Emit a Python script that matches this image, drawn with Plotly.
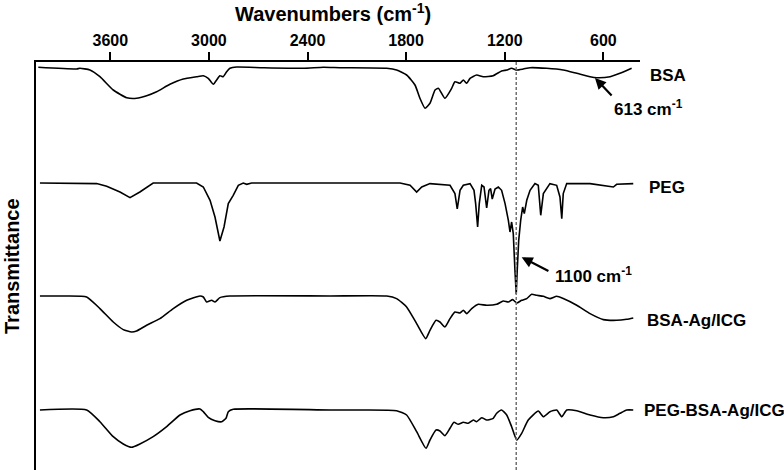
import plotly.graph_objects as go

# ---------------- data (wavenumber in cm-1, relative transmittance in a.u.; 0 = baseline) ----------------
bsa_wn = [4038, 3805, 3785, 3724, 3663, 3582, 3500, 3440, 3379, 3318, 3237, 3156, 3074, 3034, 3004, 2973,
          2953, 2933, 2913, 2892, 2872, 2831, 2669, 2426, 2304, 2202, 1918, 1858, 1797, 1746, 1716, 1685,
          1655, 1624, 1604, 1564, 1523, 1503, 1472, 1452, 1431, 1411, 1371, 1331, 1270, 1219, 1188, 1158,
          1127, 1087, 1046, 945, 844, 762, 681, 640, 559, 499, 428]
bsa_t = [0.7, -1, -0.3, -2, -8.7, -22, -29.7, -30.3, -27.7, -23.7, -16.3, -11, -8.7, -7.7, -10.3, -16.3,
         -12, -7.7, -8.7, -3.7, -0.3, 1, 0.3, -0.3, 0.7, 0.3, -0.3, -2, -7, -17, -30.3, -40.3,
         -35.3, -22, -20.3, -30.3, -20.3, -13.7, -15.3, -12, -15.3, -10.3, -7, -8.7, -7.7, -3, -2, -0.3,
         -2, -1, 0.3, -0.3, -2, -5.3, -8.7, -9.7, -8.7, -5.3, -0.3]

peg_wn = [4028, 3906, 3785, 3683, 3622, 3541, 3480, 3420, 3339, 3075, 3034, 2993, 2963, 2933, 2908, 2882,
          2852, 2821, 2791, 2770, 2740, 2263, 1837, 1776, 1736, 1705, 1655, 1533, 1503, 1489, 1472, 1452,
          1411, 1387, 1377, 1365, 1355, 1340, 1326, 1310, 1296, 1286, 1276, 1259, 1239, 1219, 1198, 1178,
          1168, 1158, 1148, 1138, 1130, 1124, 1115, 1103, 1091, 1081, 1066, 1046, 1016, 996, 981, 965,
          925, 884, 864, 853, 844, 823, 681, 539, 519, 418]
peg_t = [0, 0, -0.6, -0.6, -3.3, -9, -14.6, -9, 0, 0, -4, -17.3, -34, -58, -44, -20.6,
         -12.3, -2.3, 0, -1.3, 0, 0, 0, -2.3, -9, -4, -0.6, -2.3, -10.6, -26, -7.3, -2.3,
         -0.6, -7.3, -20.6, -44, -20.6, -2.3, -4, -25, -7.3, -5.6, -16, -6, -4, -7.3, -20.6, -37.3,
         -49, -39, -50.6, -87.3, -111, -87.3, -57.3, -37.3, -24, -30.6, -17.3, -7.3, -0.6, -2.3, -32.3, -10.6,
         -0.6, -2.3, -14, -35.6, -10.6, -0.6, -0.6, -4, -1.3, -0.6]

bsaag_wn = [4028, 3866, 3744, 3663, 3582, 3521, 3470, 3440, 3379, 3298, 3217, 3135, 3054, 3034, 3014, 2983,
            2963, 2933, 2872, 2263, 1918, 1858, 1797, 1736, 1681, 1655, 1618, 1594, 1564, 1533, 1503, 1472,
            1452, 1431, 1401, 1361, 1310, 1249, 1209, 1178, 1152, 1127, 1097, 1066, 1036, 1006, 965, 925,
            884, 844, 762, 681, 600, 519, 458, 418]
bsaag_t = [0, 0, -1, -12.6, -26, -33.6, -36, -35, -29.3, -22.6, -12.6, -4.3, 0, -1, -6, -4.3,
           -6, -1.6, 0, 0, 0, -2.6, -11, -27.6, -42.6, -34.3, -24.3, -26, -31, -22.6, -16, -17,
           -14.3, -17.6, -12.6, -8.3, -9.3, -8.3, -5, -6, -3.6, -7, -4.3, -2.6, 1.7, 0.7, -0.3, -2.6,
           -0.3, -2.6, -9.3, -17.6, -23.6, -24.3, -23.3, -22]

pegbsa_wn = [4028, 3744, 3663, 3582, 3521, 3470, 3420, 3339, 3257, 3176, 3115, 3054, 3034, 3004, 2963, 2922,
             2896, 2882, 2852, 2263, 2061, 1858, 1797, 1736, 1679, 1655, 1618, 1594, 1564, 1533, 1509, 1483,
             1452, 1422, 1391, 1371, 1340, 1310, 1270, 1249, 1219, 1188, 1158, 1127, 1097, 1057, 996, 965,
             925, 884, 853, 823, 762, 681, 600, 539, 499, 458, 418]
pegbsa_t = [0, 0, -11.7, -26.7, -34, -37.3, -34, -26.7, -16.7, -5, -0.7, 1, -1.7, -7.3, -10.7, -11.7,
            -8.3, -1.7, 0.7, 0, 0, -0.7, -5, -21.7, -38.3, -30, -20, -21, -25.7, -18.3, -12.3, -14.3,
            -12.3, -13.3, -10, -11.7, -7.7, -10, -8.3, -3.3, 0, -5, -16.7, -30, -23.3, -10, -1, -6.7,
            -1.7, 0, -6.7, 0, -0.7, -5, -7.7, -6.7, -3.3, 0, 0]

names = ["BSA", "PEG", "BSA-Ag/ICG", "PEG-BSA-Ag/ICG"]
offsets = [402, 287, 174, 60]          # vertical stacking offsets (a.u.)
tick_vals = [3600, 3000, 2400, 1800, 1200, 600]
marker_wn = 1130                       # PEG C-O-C band (dashed guide)

series = [(bsa_wn, bsa_t), (peg_wn, peg_t), (bsaag_wn, bsaag_t), (pegbsa_wn, pegbsa_t)]

FONT = "Liberation Sans, Arial, sans-serif"

fig = go.Figure()
for (wn, t), off, name in zip(series, offsets, names):
    fig.add_trace(go.Scatter(
        x=wn, y=[v + off for v in t], mode="lines", name=name,
        line=dict(color="black", width=1.6,
                  shape="linear" if name == "PEG" else "spline",
                  smoothing=0.5 if name != "PEG" else None),
        showlegend=False, hoverinfo="skip"))

# dashed guide line
fig.add_shape(type="line", xref="x", yref="paper", x0=marker_wn, x1=marker_wn, y0=0, y1=1,
              line=dict(color="#707070", width=1.5, dash="3px,2px"))

ann = []
label_x = [1.0132, 1.0116, 1.0083, 1.0033]
label_y = [395, 283, 150, 60]
for n, lx, ly in zip(names, label_x, label_y):
    ann.append(dict(text="<b>%s</b>" % n, xref="paper", yref="y", x=lx, y=ly,
                    xanchor="left", yanchor="middle", showarrow=False,
                    font=dict(family=FONT, size=17, color="black")))

# arrows
ann.append(dict(text="", xref="x", yref="y", x=651, y=392, axref="x", ayref="y", ax=541, ay=373,
                showarrow=True, arrowhead=2, arrowsize=1, arrowwidth=2.2, arrowcolor="black"))
ann.append(dict(text="<b>613 cm<sup>-1</sup></b>", xref="x", yref="y", x=547, y=362,
                xanchor="left", yanchor="middle", showarrow=False,
                font=dict(family=FONT, size=17, color="black")))
ann.append(dict(text="", xref="x", yref="y", x=1097, y=212.7, axref="x", ayref="y", ax=925, ay=198.3,
                showarrow=True, arrowhead=2, arrowsize=1, arrowwidth=2.2, arrowcolor="black"))
ann.append(dict(text="<b>1100 cm<sup>-1</sup></b>", xref="x", yref="y", x=906, y=195,
                xanchor="left", yanchor="middle", showarrow=False,
                font=dict(family=FONT, size=17, color="black")))

# axis titles
ann.append(dict(text="<b>Wavenumbers (cm<sup>-1</sup>)</b>", xref="paper", yref="paper",
                x=0.4917, y=1 + (62 - 12) / 408, xanchor="center", yanchor="middle", showarrow=False,
                font=dict(family=FONT, size=20, color="black")))
ann.append(dict(text="<b>Transmittance</b>", xref="paper", yref="paper", textangle=-90,
                x=-(36 - 12) / 604, y=0.5, xanchor="center", yanchor="middle", showarrow=False,
                font=dict(family=FONT, size=20, color="black")))

fig.update_layout(
    width=784, height=470,
    margin=dict(l=36, r=144, t=62, b=0, pad=0),
    plot_bgcolor="white", paper_bgcolor="white",
    annotations=ann,
    xaxis=dict(range=[4052, 377], side="top", tickvals=tick_vals,
               ticktext=["<b>%d</b>" % v for v in tick_vals],
               ticks="outside", ticklen=8, tickwidth=1.5, tickcolor="black",
               showline=True, linecolor="black", linewidth=1.5, mirror=False,
               showgrid=False, zeroline=False,
               tickfont=dict(family=FONT, size=16, color="black")),
    yaxis=dict(range=[0, 408], showticklabels=False, ticks="", showline=True,
               linecolor="black", linewidth=1.5, showgrid=False, zeroline=False),
)

fig.write_html("out.html", config={"displayModeBar": False},
               post_script="document.body.style.margin='0';document.body.style.overflow='hidden';")
